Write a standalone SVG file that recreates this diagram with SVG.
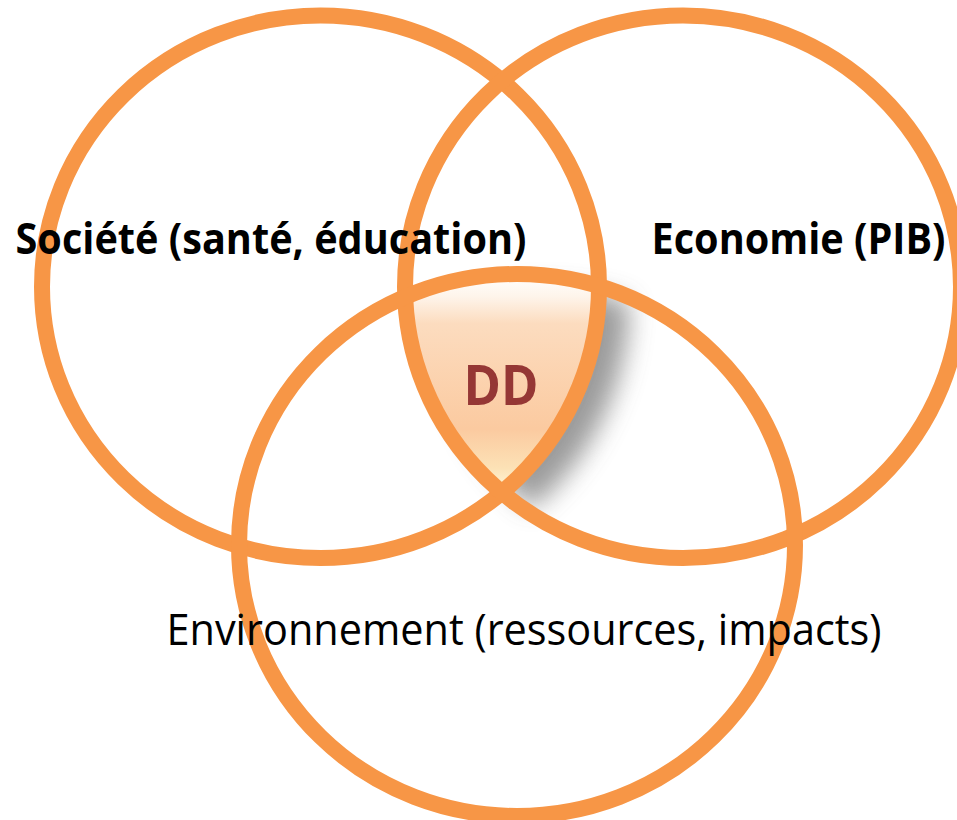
<svg xmlns="http://www.w3.org/2000/svg" width="957" height="820" viewBox="0 0 957 820">
  <style>
    .ring { fill: none; stroke: #F79646; stroke-width: 16; }
    .lbl { font-family: "Open Sans", "Noto Sans", "Liberation Sans", sans-serif; fill: #000000; }
    .bold { font-weight: bold; }
  </style>
  <defs>
    <clipPath id="clipRight"><ellipse cx="683" cy="286.75" rx="278" ry="271.25"/></clipPath>
    <clipPath id="clipBottom"><ellipse cx="517" cy="545" rx="278" ry="271"/></clipPath>
    <linearGradient id="ddFill" gradientUnits="userSpaceOnUse" x1="0" y1="275" x2="0" y2="495">
      <stop offset="0" stop-color="#FFFFFF"/>
      <stop offset="0.1" stop-color="#FEF4EA"/>
      <stop offset="0.22" stop-color="#FCDCBF"/>
      <stop offset="0.7" stop-color="#FBCAA0"/>
      <stop offset="0.88" stop-color="#FCE2B6"/>
      <stop offset="1" stop-color="#FFFBE0"/>
    </linearGradient>
    <filter id="blur" x="-50%" y="-50%" width="200%" height="200%">
      <feGaussianBlur stdDeviation="13"/>
    </filter>
  </defs>

  <g id="dd-shadow" filter="url(#blur)" opacity="0.85">
    <g transform="translate(30,16)">
      <g clip-path="url(#clipRight)">
        <g clip-path="url(#clipBottom)">
          <ellipse cx="320.5" cy="286.75" rx="278.5" ry="271.25" fill="#8a8a8a"/>
        </g>
      </g>
    </g>
  </g>

  <g id="dd-area">
    <g clip-path="url(#clipRight)">
      <g clip-path="url(#clipBottom)">
        <ellipse cx="320.5" cy="286.75" rx="278.5" ry="271.25" fill="url(#ddFill)"/>
      </g>
    </g>
  </g>

  <g id="connectors"></g>

  <g id="societe">
    <ellipse class="ring" cx="320.5" cy="286.75" rx="278.5" ry="271.25"/>
  </g>
  <g id="economie">
    <ellipse class="ring" cx="683" cy="286.75" rx="278" ry="271.25"/>
  </g>
  <g id="environnement">
    <ellipse class="ring" cx="517" cy="545" rx="278" ry="271"/>
  </g>

  <g id="labels">
    <text class="lbl bold" x="15.5" y="254" font-size="43" textLength="511" lengthAdjust="spacingAndGlyphs">Société (santé, éducation)</text>
    <text class="lbl bold" x="651.5" y="254" font-size="43" textLength="294" lengthAdjust="spacingAndGlyphs">Economie (PIB)</text>
    <text class="lbl" x="166.5" y="645" font-size="44" textLength="715" lengthAdjust="spacingAndGlyphs">Environnement (ressources, impacts)</text>
  </g>
  <g id="dd">
    <text class="lbl bold" x="501" y="405" font-size="56" text-anchor="middle" style="fill:#953735" textLength="75" lengthAdjust="spacingAndGlyphs">DD</text>
  </g>
</svg>
